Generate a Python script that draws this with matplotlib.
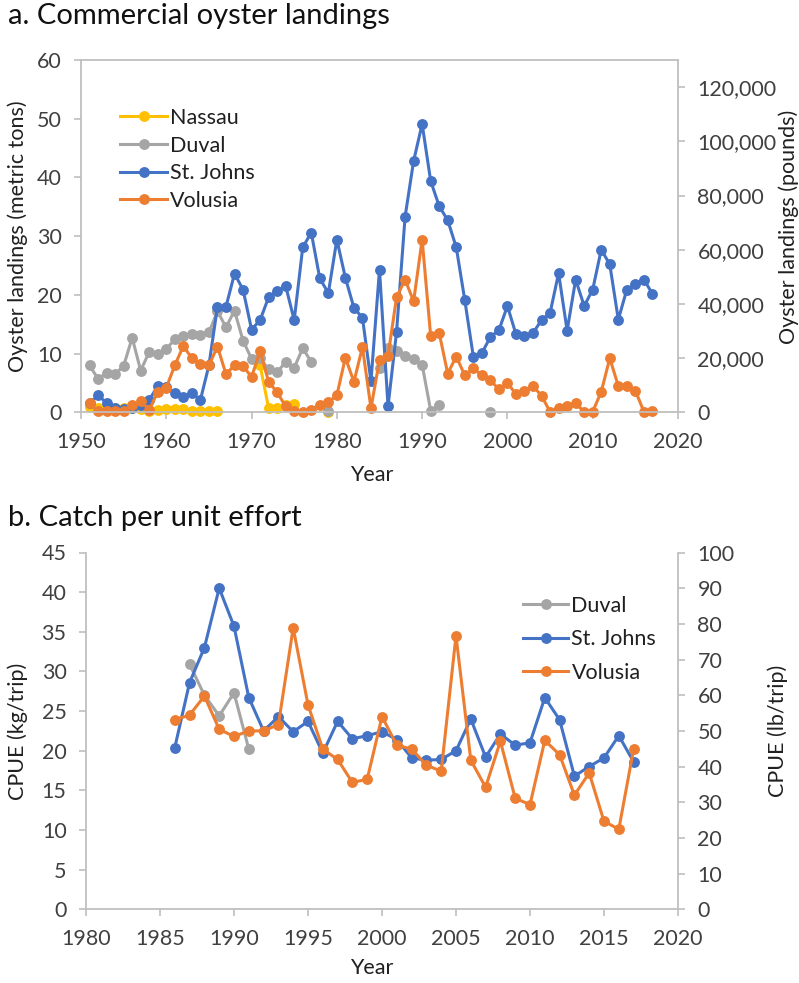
import numpy as np
import matplotlib
matplotlib.use("Agg")
import matplotlib.pyplot as plt
from matplotlib.lines import Line2D
from matplotlib.ticker import FuncFormatter, MultipleLocator

plt.rcParams['font.family'] = ['Lato', 'DejaVu Sans']

nan = np.nan

# ---- Panel a: commercial landings (metric tons), 1951-2017 ----
years = np.arange(1951, 2018)

nassau = [0.9, 0.8, 0.7, 0.8, 0.7, 0.8, 0.6, 0.3, 0.4, 0.6,
          0.6, 0.5, 0.2, 0.2, 0.2, 0.2, nan, nan, nan, nan,
          8.0, 0.7, 0.8, 1.2, 1.4, nan, nan, nan, 0.0, nan,
          nan, nan, nan, nan, nan, nan, nan, nan, nan, nan,
          nan, nan, nan, nan, nan, nan, nan, nan, nan, nan,
          nan, nan, nan, nan, nan, nan, nan, nan, nan, nan,
          nan, nan, nan, nan, nan, nan, nan]

duval = [8.0, 5.7, 6.7, 6.5, 7.9, 12.7, 7.1, 10.3, 9.9, 10.8,
         12.4, 13.0, 13.4, 13.1, 13.6, 17.2, 14.5, 17.3, 12.2, 9.1,
         9.2, 7.3, 6.8, 8.6, 7.6, 10.9, 8.6, nan, 0.2, nan,
         nan, nan, nan, nan, 7.6, 11.0, 10.5, 9.6, 9.1, 8.1,
         0.3, 1.3, nan, nan, nan, nan, nan, 0.1, nan, nan,
         nan, nan, nan, nan, nan, nan, nan, nan, nan, nan,
         nan, nan, nan, nan, nan, nan, nan]

st_johns = [1.5, 2.9, 1.6, 0.8, 0.5, 0.8, 1.2, 2.1, 4.5, 4.3,
            3.3, 2.6, 3.3, 2.1, 8.0, 18.0, 18.0, 23.6, 20.9, 14.1,
            15.7, 19.6, 20.7, 21.5, 15.7, 28.1, 30.6, 22.8, 20.3, 29.4,
            22.9, 17.8, 16.1, 5.3, 24.3, 1.0, 13.7, 33.3, 42.8, 49.1,
            39.4, 35.1, 32.7, 28.1, 19.1, 9.5, 10.1, 12.8, 14.0, 18.1,
            13.3, 13.0, 13.5, 15.7, 16.9, 23.7, 13.9, 22.6, 18.1, 20.9,
            27.7, 25.2, 15.8, 20.9, 21.9, 22.6, 20.2]

volusia = [1.6, 0.2, 0.2, 0.2, 0.2, 1.2, 1.9, 0.4, 3.5, 4.2,
           8.0, 11.3, 9.2, 8.2, 8.0, 11.2, 6.5, 8.0, 7.9, 6.0,
           10.4, 5.2, 3.4, 1.0, 0.3, 0.1, 0.4, 1.2, 1.7, 2.9,
           9.3, 5.2, 11.1, 0.7, 8.9, 9.6, 19.6, 22.6, 18.9, 29.4,
           13.0, 13.5, 6.6, 9.5, 6.3, 7.5, 6.3, 5.5, 3.9, 5.0,
           3.1, 3.7, 4.5, 2.8, 0.1, 0.7, 1.0, 1.5, 0.1, 0.1,
           3.5, 9.2, 4.5, 4.5, 3.7, 0.1, 0.2]

# ---- Panel b: catch per unit effort (kg/trip), 1986-2017 ----
cpue_years = np.arange(1986, 2018)

cpue_duval = [nan, 30.9, 27.0, 24.4, 27.3, 20.2, nan, nan, nan, nan,
              nan, nan, nan, nan, nan, nan, nan, nan, nan, nan,
              nan, nan, nan, nan, nan, nan, nan, nan, nan, nan,
              nan, nan]

cpue_st_johns = [20.4, 28.6, 33.0, 40.5, 35.7, 26.7, 22.5, 24.3, 22.4, 23.7,
                 19.7, 23.7, 21.5, 21.9, 22.4, 21.4, 19.1, 18.8, 18.9, 20.0,
                 24.0, 19.2, 22.1, 20.7, 21.0, 26.7, 23.9, 16.8, 18.0, 19.1,
                 21.9, 18.6]

cpue_volusia = [23.9, 24.5, 26.9, 22.7, 21.8, 22.5, 22.5, 23.3, 35.5, 25.8,
                20.2, 18.9, 16.0, 16.4, 24.3, 20.7, 20.2, 18.2, 17.4, 34.5,
                18.8, 15.4, 21.2, 14.0, 13.2, 21.3, 19.5, 14.4, 17.2, 11.1,
                10.1, 20.2]

C_NASSAU = '#FFC000'
C_DUVAL = '#A5A5A5'
C_STJOHNS = '#4472C4'
C_VOLUSIA = '#ED7D31'
AXIS_C = '#BFBFBF'
TEXT_C = '#404040'
FS = 15.5
TITLE_FS = 21

W, H = 799, 983
fig = plt.figure(figsize=(W / 100, H / 100), dpi=100)


def box(l, t, r, b):
    return [l / W, 1 - b / H, (r - l) / W, (b - t) / H]


def style_axis(ax, sides):
    for s in ['left', 'right', 'top', 'bottom']:
        ax.spines[s].set_visible(s in sides)
        ax.spines[s].set_color(AXIS_C)
        ax.spines[s].set_linewidth(1.3)
    ax.tick_params(direction='out', length=5, width=1.2, color=AXIS_C,
                   labelcolor=TEXT_C, labelsize=FS, pad=9)


def series(ax, x, y, color):
    ax.plot(x, np.array(y, dtype=float), color=color, lw=2.2, marker='o',
            ms=6.8, mec=color, mfc=color, solid_capstyle='round',
            solid_joinstyle='round', clip_on=False)


def legend_handles(names, colors):
    return [Line2D([], [], color=c, lw=2.2, marker='o', ms=6.8, label=n)
            for n, c in zip(names, colors)]


# ---------------- Panel a ----------------
ax1 = fig.add_axes(box(81, 60, 678, 412.3))
series(ax1, years, nassau, C_NASSAU)
series(ax1, years, duval, C_DUVAL)
series(ax1, years, st_johns, C_STJOHNS)
series(ax1, years, volusia, C_VOLUSIA)
ax1.set_xlim(1950, 2020)
ax1.set_ylim(0, 60)
ax1.xaxis.set_major_locator(MultipleLocator(10))
ax1.yaxis.set_major_locator(MultipleLocator(10))
style_axis(ax1, ['left', 'bottom', 'top'])
ax1.tick_params(axis='x', top=False)

ax1r = ax1.twinx()
ax1r.set_ylim(0, 130000)
ax1r.set_yticks(np.arange(0, 120001, 20000))
ax1r.yaxis.set_major_formatter(FuncFormatter(lambda v, p: f"{v:,.0f}"))
style_axis(ax1r, ['right'])

leg1 = ax1.legend(handles=legend_handles(['Nassau', 'Duval', 'St. Johns', 'Volusia'],
                                         [C_NASSAU, C_DUVAL, C_STJOHNS, C_VOLUSIA]),
                  loc='upper left', bbox_to_anchor=(120 / W, 1 - 108 / H),
                  bbox_transform=fig.transFigure, frameon=False, fontsize=FS,
                  handlelength=2.2, handletextpad=0.12, labelspacing=0.35,
                  borderpad=0, borderaxespad=0, numpoints=1)
for t in leg1.get_texts():
    t.set_color('#202020')

fig.text(8 / W, 1 - 3 / H, 'a. Commercial oyster landings', fontsize=TITLE_FS,
         ha='left', va='top', color='#111111')
fig.text(18 / W, 1 - 236 / H, 'Oyster landings (metric tons)', fontsize=FS,
         rotation=90, ha='center', va='center', color='#202020')
fig.text(789 / W, 1 - 227 / H, 'Oyster landings (pounds)', fontsize=FS,
         rotation=90, ha='center', va='center', color='#202020')
fig.text(372 / W, 1 - 475 / H, 'Year', fontsize=FS, ha='center', va='center',
         color='#202020')

# ---------------- Panel b ----------------
ax2 = fig.add_axes(box(86, 552.5, 678, 909.3))
series(ax2, cpue_years, cpue_duval, C_DUVAL)
series(ax2, cpue_years, cpue_st_johns, C_STJOHNS)
series(ax2, cpue_years, cpue_volusia, C_VOLUSIA)
ax2.set_xlim(1980, 2020)
ax2.set_ylim(0, 45)
ax2.xaxis.set_major_locator(MultipleLocator(5))
ax2.yaxis.set_major_locator(MultipleLocator(5))
style_axis(ax2, ['left', 'bottom'])

ax2r = ax2.twinx()
ax2r.set_ylim(0, 100)
ax2r.yaxis.set_major_locator(MultipleLocator(10))
style_axis(ax2r, ['right'])

leg2 = ax2.legend(handles=legend_handles(['Duval', 'St. Johns', 'Volusia'],
                                         [C_DUVAL, C_STJOHNS, C_VOLUSIA]),
                  loc='upper left', bbox_to_anchor=(523 / W, 1 - 596 / H),
                  bbox_transform=fig.transFigure, frameon=False, fontsize=FS,
                  handlelength=2.1, handletextpad=0.15, labelspacing=0.62,
                  borderpad=0, borderaxespad=0, numpoints=1)
for t in leg2.get_texts():
    t.set_color('#202020')

fig.text(8 / W, 1 - 505 / H, 'b. Catch per unit effort', fontsize=TITLE_FS,
         ha='left', va='top', color='#111111')
fig.text(18 / W, 1 - 731 / H, 'CPUE (kg/trip)', fontsize=FS,
         rotation=90, ha='center', va='center', color='#202020')
fig.text(778 / W, 1 - 731 / H, 'CPUE (lb/trip)', fontsize=FS,
         rotation=90, ha='center', va='center', color='#202020')
fig.text(372 / W, 1 - 968 / H, 'Year', fontsize=FS, ha='center', va='center',
         color='#202020')

fig.savefig('out.png', dpi=100, facecolor='white')
